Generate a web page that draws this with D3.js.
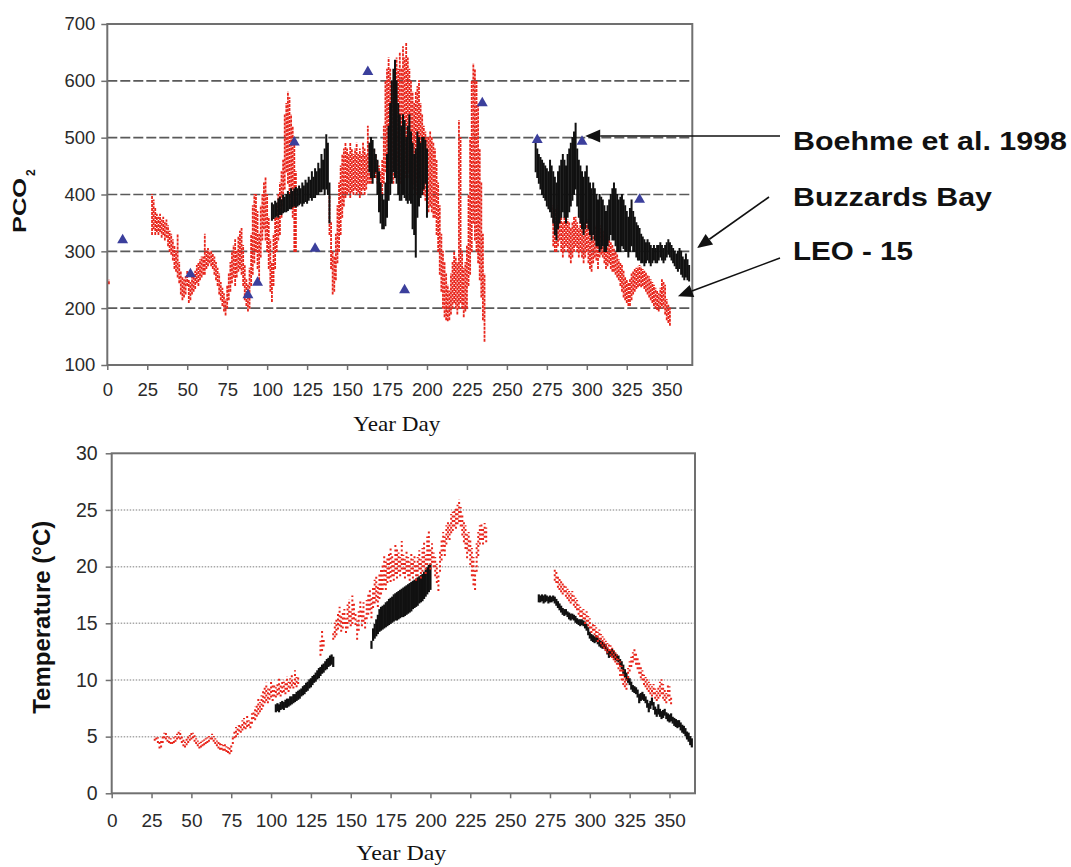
<!DOCTYPE html>
<html><head><meta charset="utf-8">
<script src="https://cdn.jsdelivr.net/npm/d3@7"></script>
<style>body{margin:0;background:#fff}</style>
</head><body>
<script>
// ---------- data ----------
const dayTicks = [0,25,50,75,100,125,150,175,200,225,250,275,300,325,350];
const pco2Ticks = [100,200,300,400,500,600,700];
const pco2Grid = [200,300,400,500,600];
const tempTicks = [0,5,10,15,20,25,30];
const tempGrid = [5,10,15,20,25];

// LEO-15 pCO2 : [day, low, high]
const leoPco2 = [[1,243,249],[28,330,400],[29,340,390],[30,330,375],[31,335,365],[32,330,360],[33,335,365],[34,325,355],[35,330,360],[36,320,350],[37,325,355],[38,310,345],[39,300,335],[40,295,330],[41,285,320],[42,270,310],[43,265,300],[44,255,330],[45,245,280],[46,225,265],[47,215,255],[48,220,250],[49,225,255],[50,240,265],[51,210,250],[52,215,245],[53,225,255],[54,230,260],[55,235,265],[56,245,275],[57,240,280],[58,250,285],[59,255,290],[60,260,290],[61,260,330],[62,270,300],[63,275,305],[64,280,300],[65,275,300],[66,270,295],[67,260,290],[68,250,280],[69,240,270],[70,225,260],[71,215,245],[72,205,235],[73,195,225],[74,188,215],[75,200,240],[76,215,260],[77,230,280],[78,245,300],[79,255,310],[80,240,320],[81,255,300],[82,265,325],[83,270,335],[84,260,340],[85,240,310],[86,215,275],[87,205,250],[88,195,240],[89,200,270],[90,240,330],[91,260,380],[92,280,400],[93,300,400],[94,270,370],[95,250,330],[96,290,380],[97,320,400],[98,340,420],[99,320,430],[100,300,400],[101,270,360],[102,230,320],[103,212,280],[104,240,330],[105,270,360],[106,300,380],[107,320,400],[108,330,420],[109,360,440],[110,380,460],[111,410,540],[112,440,560],[113,420,580],[114,400,570],[115,380,540],[116,360,520],[117,300,490],[118,300,440],
[139,330,400],[140,270,350],[141,225,300],[142,230,290],[143,250,330],[144,280,380],[145,300,420],[146,330,450],[147,360,470],[148,380,480],[149,395,490],[150,400,480],[151,405,470],[152,395,490],[153,405,480],[154,400,470],[155,410,480],[156,400,490],[157,405,470],[158,395,480],[159,400,470],[160,410,490],[161,400,480],[162,410,470],[163,420,520],[164,420,490],[165,420,480],[166,430,470],[167,440,480],[168,430,470],[169,420,460],[170,400,450],[171,390,440],[172,400,460],[173,420,520],[174,440,600],[175,450,620],[176,430,640],[177,420,620],[178,440,600],[179,420,580],[180,440,620],[181,450,640],[182,430,620],[183,420,650],[184,420,620],[185,440,660],[186,450,640],[187,430,666],[188,440,640],[189,430,620],[190,420,600],[191,420,580],[192,410,560],[193,400,580],[194,420,590],[195,430,600],[196,420,560],[197,410,540],[198,400,520],[199,390,510],[200,380,500],[201,370,500],[202,380,510],[203,370,500],[204,360,490],[205,360,480],[206,330,460],[207,300,420],[208,260,380],[209,230,330],[210,200,300],[211,185,280],[212,180,260],[213,178,240],[214,180,230],[215,190,260],[216,200,280],[217,210,300],[218,200,290],[219,190,280],[220,200,530],[221,210,500],[222,200,300],[223,185,270],[224,195,280],[225,200,310],[226,240,400],[227,260,500],[228,300,600],[229,350,630],[230,320,620],[231,300,600],[232,280,560],[233,250,480],[234,220,420],[235,180,330],[236,142,260],
[279,310,380],[280,300,375],[281,300,370],[282,310,380],[283,320,370],[284,300,360],[285,290,350],[286,300,360],[287,310,370],[288,300,355],[289,290,350],[290,280,340],[291,290,350],[292,300,360],[293,310,360],[294,300,350],[295,290,340],[296,300,360],[297,290,370],[298,280,340],[299,290,350],[300,300,355],[301,280,345],[302,270,330],[303,265,320],[304,280,335],[305,290,345],[306,285,330],[307,270,320],[308,290,340],[309,295,345],[310,290,335],[311,280,330],[312,270,330],[313,275,325],[314,280,320],[315,270,315],[316,265,310],[317,265,305],[318,260,300],[319,255,295],[320,250,285],[321,240,280],[322,230,275],[323,220,265],[324,215,255],[325,210,250],[326,205,245],[327,205,250],[328,215,260],[329,225,265],[330,230,268],[331,235,270],[332,238,272],[333,240,275],[334,238,272],[335,240,268],[336,235,265],[337,230,262],[338,225,258],[339,220,255],[340,215,250],[341,210,245],[342,205,240],[343,200,235],[344,198,230],[345,195,225],[346,200,235],[347,205,250],[348,200,245],[349,190,240],[350,180,215],[351,175,205],[352,170,200]];

// Buzzards Bay pCO2 : [day, low, high]
const bbPco2 = [[103,355,385],[104,358,382],[105,360,388],[106,362,385],[107,360,392],[108,365,395],[109,365,390],[110,368,398],[111,370,395],[112,370,400],[113,372,405],[114,375,400],[115,375,410],[116,378,405],[117,380,410],[118,378,412],[119,380,410],[120,382,415],[121,385,410],[122,380,420],[123,385,415],[124,388,425],[125,385,420],[126,390,430],[127,395,425],[128,390,440],[129,395,430],[130,395,445],[131,400,440],[132,400,455],[133,405,445],[134,405,470],[135,410,460],[136,400,480],[137,410,505],[138,400,490],[139,350,420],
[164,440,490],[165,430,500],[166,420,495],[167,430,480],[168,440,470],[169,400,460],[170,370,440],[171,350,420],[172,340,400],[173,340,390],[174,345,420],[175,360,470],[176,390,520],[177,400,560],[178,420,600],[179,440,620],[180,430,636],[181,420,600],[182,400,560],[183,390,540],[184,390,520],[185,400,540],[186,395,530],[187,390,500],[188,385,520],[189,390,540],[190,385,510],[191,340,490],[192,330,470],[193,290,480],[194,360,510],[195,380,500],[196,395,490],[197,400,500],[198,410,500],[199,420,495],[200,360,480],
[268,440,495],[269,430,480],[270,420,470],[271,410,465],[272,400,460],[273,395,455],[274,390,450],[275,380,445],[276,375,440],[277,370,460],[278,360,450],[279,350,440],[280,330,430],[281,320,420],[282,340,440],[283,350,450],[284,360,460],[285,370,470],[286,360,460],[287,350,450],[288,360,470],[289,370,480],[290,380,490],[291,390,500],[292,400,510],[293,410,525],[294,380,480],[295,360,460],[296,350,450],[297,340,440],[298,330,430],[299,340,440],[300,350,450],[301,340,430],[302,330,420],[303,320,410],[304,330,420],[305,320,410],[306,310,400],[307,310,390],[308,300,400],[309,305,395],[310,310,390],[311,300,380],[312,300,370],[313,310,380],[314,320,390],[315,330,400],[316,320,410],[317,320,420],[318,310,410],[319,300,400],[320,300,390],[321,300,395],[322,310,400],[323,305,390],[324,300,380],[325,300,370],[326,290,360],[327,300,375],[328,310,390],[329,300,370],[330,300,360],[331,290,350],[332,285,345],[333,285,340],[334,280,330],[335,280,325],[336,275,320],[337,280,315],[338,285,320],[339,280,315],[340,275,310],[341,280,305],[342,285,310],[343,280,305],[344,280,310],[345,285,310],[346,290,315],[347,285,310],[348,280,305],[349,285,310],[350,290,315],[351,295,320],[352,290,315],[353,285,310],[354,280,305],[355,275,300],[356,270,295],[357,265,300],[358,270,305],[359,260,300],[360,255,290],[361,250,285],[362,255,295],[363,250,285],[364,248,275]];

// Boehme et al. 1998 : [day, pCO2]
const boehme = [[9.6,320],[52,260],[88,223],[94,245],[117,492],[130,305],[163,616],[186,232],[234.6,561],[269,496],[297,493],[333,391]];

// LEO-15 temperature : [day, low, high]
const leoTemp = [[27,4.7,5.0],[28,4.8,5.0],[29,4.5,4.9],[30,4.0,4.5],[31,4.1,4.6],[32,4.5,5.0],[33,4.9,5.3],[34,4.8,5.3],[35,4.6,5.0],[36,4.5,4.9],[37,4.4,4.8],[38,4.4,4.7],[39,4.5,4.9],[40,4.6,5.0],[41,4.8,5.2],[42,4.9,5.4],[43,4.8,5.5],[44,4.5,5.0],[45,4.2,4.7],[46,4.1,4.5],[47,4.3,4.8],[48,4.5,5.0],[49,4.7,5.1],[50,4.8,5.3],[51,4.9,5.3],[52,4.6,5.1],[53,4.4,4.8],[54,4.2,4.6],[55,4.0,4.4],[56,4.1,4.5],[57,4.2,4.6],[58,4.3,4.7],[59,4.4,4.8],[60,4.5,4.9],[61,4.6,5.0],[62,4.8,5.1],[63,4.8,5.2],[64,4.6,5.0],[65,4.4,4.8],[66,4.2,4.6],[67,4.0,4.5],[68,3.9,4.4],[69,3.9,4.3],[70,3.8,4.2],[71,3.8,4.3],[72,3.7,4.1],[73,3.6,4.0],[74,3.5,4.0],[75,3.7,4.3],
[76,4.4,5.0],[77,4.9,5.5],[78,5.0,5.8],[79,5.2,5.9],[80,5.5,6.2],[81,5.4,6.0],[82,5.6,6.4],[83,5.8,6.6],[84,5.7,6.2],[85,5.9,6.8],[86,6.0,6.4],[87,5.8,6.3],[88,6.2,7.0],[89,6.6,7.3],[90,6.5,7.6],[91,6.8,7.8],[92,7.0,8.3],[93,7.2,8.0],[94,7.4,8.6],[95,7.7,9.0],[96,8.0,9.3],[97,8.2,9.7],[98,8.0,9.2],[99,8.3,9.4],[100,8.5,9.8],[101,8.2,9.5],[102,8.6,9.6],[103,8.5,9.3],[104,8.7,9.8],[105,8.8,10.2],[106,8.6,9.6],[107,8.9,10.0],[108,9.0,9.8],[109,8.8,9.9],[110,9.2,10.3],[111,9.0,9.8],[112,9.3,10.1],[113,9.5,10.4],[114,9.3,10.0],[115,9.6,10.8],[116,9.4,10.2],[117,9.7,10.3],
[131,12.2,13.4],[132,12.6,14.3],[133,13.0,13.6],[139,13.6,14.2],[140,13.8,15.0],[141,14.0,15.4],[142,14.5,15.8],[143,14.8,16.4],[144,14.3,15.6],[145,14.6,16.0],[146,15.0,16.2],[147,14.2,15.4],[148,14.6,16.6],[149,15.2,17.1],[150,14.8,16.0],[151,15.0,17.4],[152,15.4,16.8],[153,14.9,15.8],[154,13.6,15.2],[155,14.4,16.0],[156,15.6,17.0],[157,14.8,16.2],[158,15.2,16.8],[159,14.6,15.6],[160,15.4,17.0],[161,15.8,17.6],[162,16.2,18.0],[163,15.5,17.2],[164,16.4,18.2],[165,16.8,18.8],[166,17.0,19.1],[167,16.5,18.4],[168,17.2,19.4],[169,17.6,19.8],[170,18.0,20.2],[171,18.4,21.0],[172,18.0,20.4],[173,18.6,20.8],[174,19.0,21.2],[175,18.7,21.6],[176,19.2,21.0],[177,18.8,20.6],[178,19.4,22.0],[179,19.0,21.5],[180,19.6,21.2],[181,19.2,20.8],[182,19.8,22.2],[183,19.4,21.0],[184,19.0,20.6],[185,19.6,21.4],[186,19.2,20.8],[187,18.8,20.4],[188,19.4,21.2],[189,19.0,20.6],[190,19.6,21.0],[191,18.8,20.2],[192,19.2,20.8],[193,19.8,21.4],[194,19.0,20.6],[195,19.6,21.6],[196,20.0,22.2],[197,19.4,21.0],[198,20.2,22.6],[199,20.6,23.2],[200,19.8,21.6],[201,20.4,22.0],[202,20.0,21.2],[203,19.2,20.8],[204,18.6,20.2],[205,17.9,19.4],[206,19.6,21.4],[207,20.6,22.4],[208,21.4,23.0],[209,21.0,22.6],[210,22.0,23.6],[211,22.6,24.0],[212,22.4,23.8],[213,23.0,24.6],[214,23.2,24.8],[215,23.6,25.0],[216,23.4,25.2],[217,23.8,25.4],[218,24.0,25.9],[219,23.6,25.2],[220,22.8,24.6],[221,22.2,24.0],[222,21.6,23.6],[223,20.8,22.8],[224,21.4,23.0],[225,20.2,22.4],[226,19.2,21.6],[227,18.4,20.8],[228,18.0,19.6],[229,19.6,22.0],[230,21.0,23.0],[231,22.0,23.6],[232,22.4,23.8],[233,22.0,23.4],[234,22.6,23.8],[235,22.2,23.4],
[278,18.8,19.8],[279,18.6,19.6],[280,18.2,19.2],[281,18.0,19.0],[282,17.8,18.8],[283,17.6,18.6],[284,17.8,18.4],[285,17.4,18.2],[286,17.2,18.0],[287,17.0,17.8],[288,16.8,17.6],[289,17.0,17.8],[290,16.6,17.4],[291,16.4,17.2],[292,16.2,17.0],[293,15.8,16.6],[294,15.6,16.4],[295,15.6,16.2],[296,15.4,16.2],[297,15.0,15.8],[298,15.2,16.0],[299,14.8,15.6],[300,14.6,15.4],[301,14.2,14.8],[302,14.4,15.0],[303,14.0,14.8],[304,13.8,14.6],[305,13.4,14.2],[306,13.6,14.4],[307,13.2,14.0],[308,13.0,13.8],[309,12.8,13.6],[310,12.6,13.4],[311,12.4,13.2],[312,12.6,13.2],[313,12.2,13.0],[314,12.0,12.8],[315,11.8,12.6],[316,11.6,12.4],[317,11.4,12.2],[318,11.0,11.8],[319,10.4,11.6],[320,10.0,11.2],[321,9.6,10.8],[322,9.4,10.2],[323,9.2,10.0],[324,10.2,11.0],[325,10.8,11.6],[326,11.2,12.0],[327,11.6,12.4],[328,11.8,12.8],[329,11.4,12.4],[330,11.0,12.0],[331,10.6,11.6],[332,10.2,11.2],[333,10.0,10.8],[334,9.6,10.4],[335,9.4,10.2],[336,9.2,10.0],[337,9.0,9.8],[338,8.8,9.6],[339,8.6,9.4],[340,8.8,9.6],[341,8.4,9.2],[342,8.2,9.0],[343,8.4,9.4],[344,8.6,9.8],[345,8.8,10.0],[346,8.4,9.6],[347,8.2,9.2],[348,8.0,8.8],[349,8.6,9.6],[350,8.2,9.4],[351,7.9,8.6]];

// Buzzards Bay temperature : [day, low, high]
const bbTemp = [[103,7.2,7.8],[104,7.3,7.9],[105,7.2,7.8],[106,7.4,8.0],[107,7.5,8.1],[108,7.4,8.0],[109,7.6,8.2],[110,7.6,8.3],[111,7.7,8.3],[112,7.8,8.5],[113,7.9,8.5],[114,8.0,8.7],[115,8.1,8.7],[116,8.2,8.9],[117,8.3,9.0],[118,8.4,9.1],[119,8.6,9.2],[120,8.7,9.4],[121,8.8,9.5],[122,9.0,9.7],[123,9.1,9.8],[124,9.3,10.0],[125,9.4,10.1],[126,9.6,10.3],[127,9.8,10.4],[128,9.9,10.6],[129,10.1,10.8],[130,10.2,11.0],[131,10.4,11.1],[132,10.6,11.3],[133,10.7,11.4],[134,10.9,11.6],[135,11.0,11.8],[136,11.2,11.9],[137,11.3,12.1],[138,11.4,12.2],[139,11.2,12.0],
[163,12.8,13.4],[164,13.5,14.5],[165,13.7,14.9],[166,13.9,15.3],[167,14.1,15.7],[168,14.3,16.2],[169,14.4,16.4],[170,14.5,16.5],[171,14.6,16.6],[172,14.7,16.8],[173,14.8,16.9],[174,14.9,17.1],[175,15.0,17.2],[176,15.1,17.3],[177,15.2,17.5],[178,15.3,17.6],[179,15.3,17.7],[180,15.4,17.8],[181,15.5,17.9],[182,15.6,18.0],[183,15.6,18.1],[184,15.7,18.2],[185,15.8,18.3],[186,15.9,18.4],[187,16.0,18.5],[188,16.1,18.6],[189,16.3,18.7],[190,16.4,18.8],[191,16.5,18.9],[192,16.6,19.0],[193,16.8,19.1],[194,16.9,19.2],[195,17.0,19.3],[196,17.2,19.5],[197,17.4,19.7],[198,17.6,19.9],[199,17.8,20.1],[200,18.0,20.2],
[268,16.9,17.5],[269,16.9,17.4],[270,17.0,17.5],[271,16.8,17.4],[272,16.9,17.5],[273,17.0,17.4],[274,16.8,17.3],[275,16.9,17.4],[276,16.9,17.3],[277,17.0,17.4],[278,16.8,17.3],[279,16.6,17.1],[280,16.4,16.9],[281,16.2,16.7],[282,16.0,16.5],[283,15.8,16.3],[284,15.7,16.2],[285,15.8,16.2],[286,15.6,16.0],[287,15.4,15.9],[288,15.3,15.8],[289,15.4,15.8],[290,15.3,15.7],[291,15.1,15.6],[292,15.0,15.4],[293,14.9,15.3],[294,14.8,15.3],[295,14.9,15.3],[296,14.8,15.2],[297,14.6,15.1],[298,14.4,14.9],[299,14.0,14.6],[300,13.7,14.2],[301,13.5,14.0],[302,13.4,13.9],[303,13.3,13.8],[304,13.4,13.9],[305,13.2,13.7],[306,13.0,13.5],[307,12.9,13.4],[308,12.8,13.3],[309,12.8,13.2],[310,12.6,13.1],[311,12.3,12.8],[312,12.0,12.5],[313,12.1,12.6],[314,12.2,12.7],[315,12.0,12.5],[316,11.8,12.3],[317,11.7,12.2],[318,11.6,12.1],[319,11.3,11.8],[320,11.0,11.6],[321,10.6,11.3],[322,10.3,10.9],[323,10.0,10.6],[324,9.8,10.3],[325,9.6,10.1],[326,9.2,9.8],[327,9.0,9.5],[328,8.9,9.4],[329,8.8,9.3],[330,8.5,9.1],[331,8.0,8.7],[332,8.2,8.8],[333,8.3,8.9],[334,8.2,8.7],[335,8.0,8.5],[336,7.6,8.2],[337,7.2,7.9],[338,7.5,8.1],[339,7.8,8.4],[340,7.4,8.0],[341,7.0,7.6],[342,6.8,7.4],[343,7.0,7.8],[344,6.8,7.4],[345,6.6,7.2],[346,6.7,7.3],[347,6.9,7.4],[348,6.6,7.1],[349,6.4,7.0],[350,6.3,6.9],[351,6.4,7.0],[352,6.2,6.7],[353,6.0,6.6],[354,5.9,6.5],[355,5.8,6.4],[356,5.9,6.4],[357,5.6,6.2],[358,5.4,6.0],[359,5.3,5.9],[360,5.1,5.7],[361,4.8,5.4],[362,4.6,5.3],[363,4.3,5.0],[364,4.1,4.8]];

// annotation labels: [text, arrow tip day, arrow tip pCO2]
const labels = ["Boehme et al. 1998","Buzzards Bay","LEO - 15"];
const labelTips = [[299,503],[369,306],[357,221]];

// ---------- drawing ----------
const W = 1071, H = 867;
const SANS = "'Liberation Sans', Arial, Helvetica, sans-serif";
const SERIF = "'Liberation Serif', 'Times New Roman', serif";
const RED = "#e8261c", BLK = "#111", BLUE = "#3b3f9c", FRAME = "#707070";

const svg = d3.select("body").append("svg").attr("width", W).attr("height", H)
  .style("background", "#fff");

const P1 = {l:107.3, r:692.3, t:24, b:365};
const P2 = {l:111.7, r:695, t:453.3, b:793.3};

const x1 = d3.scaleLinear().domain([0,366]).range([P1.l,P1.r]);
const y1 = d3.scaleLinear().domain([100,700]).range([P1.b,P1.t]);
const x2 = d3.scaleLinear().domain([0,366]).range([P2.l,P2.r]);
const y2 = d3.scaleLinear().domain([0,30]).range([P2.b,P2.t]);

const defs = svg.append("defs");
[["clip1",P1],["clip2",P2]].forEach(([id,P]) => {
  defs.append("clipPath").attr("id",id).append("rect")
    .attr("x",P.l).attr("y",P.t).attr("width",P.r-P.l).attr("height",P.b-P.t);
});

function columns(g, data, x, y, color, w, dash){
  g.selectAll(null).data(data).join("line")
    .attr("x1", d => x(d[0])).attr("x2", d => x(d[0]))
    .attr("y1", d => y(d[1]) + 0.6).attr("y2", d => y(d[2]) - 0.6)
    .attr("stroke", color).attr("stroke-width", w)
    .attr("stroke-dasharray", dash);
}

function styleAxis(g, size){
  g.select(".domain").remove();
  g.selectAll("line").attr("stroke", FRAME).attr("stroke-width", 1.5);
  g.selectAll("text").attr("font-family", SANS).attr("font-size", size).attr("fill", "#2a2a2a");
}

// ===== top panel =====
const gTop = svg.append("g");
gTop.selectAll(null).data(pco2Grid).join("line")
  .attr("x1", P1.l).attr("x2", P1.r).attr("y1", d => y1(d)).attr("y2", d => y1(d))
  .attr("stroke", "#5a5a5a").attr("stroke-width", 1.6).attr("stroke-dasharray", "10,3");

const data1 = gTop.append("g").attr("clip-path", "url(#clip1)");
columns(data1.append("g"), leoPco2, x1, y1, RED, 1.8, "3,1");
columns(data1.append("g"), bbPco2, x1, y1, BLK, 2, null);

data1.append("g").selectAll(null).data(boehme).join("path")
  .attr("d", d3.symbol(d3.symbolTriangle, 52))
  .attr("transform", d => `translate(${x1(d[0])},${y1(d[1])})`)
  .attr("fill", BLUE);

gTop.append("rect").attr("x", P1.l).attr("y", P1.t).attr("width", P1.r-P1.l).attr("height", P1.b-P1.t)
  .attr("fill", "none").attr("stroke", FRAME).attr("stroke-width", 2);

styleAxis(gTop.append("g").attr("transform", `translate(0,${P1.b})`)
  .call(d3.axisBottom(x1).tickValues(dayTicks).tickSize(5).tickPadding(13).tickSizeOuter(0)), 18.5);
styleAxis(gTop.append("g").attr("transform", `translate(${P1.l},0)`)
  .call(d3.axisLeft(y1).tickValues(pco2Ticks).tickSize(6).tickPadding(6).tickSizeOuter(0)), 18.5);

gTop.append("text").attr("x", (P1.l+P1.r)/2 - 3).attr("y", 431)
  .attr("text-anchor", "middle").attr("font-family", SERIF).attr("font-size", 21)
  .attr("textLength", 87).attr("lengthAdjust", "spacingAndGlyphs").attr("fill", "#111")
  .text("Year Day");

// PCO2 title (rotated), subscript as its own text
gTop.append("text").attr("transform", "translate(26,233) rotate(-90)")
  .attr("font-family", SANS).attr("font-weight", "bold").attr("font-size", 18).attr("fill", "#111")
  .attr("textLength", 55).attr("lengthAdjust", "spacingAndGlyphs").text("PCO");
gTop.append("text").attr("transform", "translate(35,176) rotate(-90)")
  .attr("font-family", SANS).attr("font-weight", "bold").attr("font-size", 12).attr("fill", "#111")
  .text("2");

// ===== bottom panel =====
const gBot = svg.append("g");
gBot.selectAll(null).data(tempGrid).join("line")
  .attr("x1", P2.l).attr("x2", P2.r).attr("y1", d => y2(d)).attr("y2", d => y2(d))
  .attr("stroke", "#a8a8a8").attr("stroke-width", 1.5).attr("stroke-dasharray", "1.5,1.5");

const data2 = gBot.append("g").attr("clip-path", "url(#clip2)");
columns(data2.append("g"), bbTemp, x2, y2, BLK, 2.2, null);
columns(data2.append("g"), leoTemp, x2, y2, RED, 2, "2,2.5");

gBot.append("rect").attr("x", P2.l).attr("y", P2.t).attr("width", P2.r-P2.l).attr("height", P2.b-P2.t)
  .attr("fill", "none").attr("stroke", FRAME).attr("stroke-width", 2);

styleAxis(gBot.append("g").attr("transform", `translate(0,${P2.b})`)
  .call(d3.axisBottom(x2).tickValues(dayTicks).tickSize(5).tickPadding(15).tickSizeOuter(0)), 19);
styleAxis(gBot.append("g").attr("transform", `translate(${P2.l},0)`)
  .call(d3.axisLeft(y2).tickValues(tempTicks).tickSize(6).tickPadding(8).tickSizeOuter(0)), 19.5);

gBot.append("text").attr("x", (P2.l+P2.r)/2 - 2).attr("y", 860)
  .attr("text-anchor", "middle").attr("font-family", SERIF).attr("font-size", 21)
  .attr("textLength", 90).attr("lengthAdjust", "spacingAndGlyphs").attr("fill", "#111")
  .text("Year Day");

gBot.append("text").attr("transform", `translate(50,${(P2.t+P2.b)/2 - 6}) rotate(-90)`)
  .attr("text-anchor", "middle").attr("font-family", SANS).attr("font-weight", "bold")
  .attr("font-size", 23).attr("textLength", 193).attr("lengthAdjust", "spacingAndGlyphs")
  .attr("fill", "#111").text("Temperature (°C)");

// ===== annotations =====
const ann = svg.append("g");
const labelPos = [[793,150,274],[793,206,199],[793,260,120]];
const tails = [[780,136],[769,197],[780,258]];
labels.forEach((t,i) => {
  ann.append("text").attr("x", labelPos[i][0]).attr("y", labelPos[i][1])
    .attr("font-family", SANS).attr("font-weight", "bold").attr("font-size", 26)
    .attr("textLength", labelPos[i][2]).attr("lengthAdjust", "spacingAndGlyphs")
    .attr("fill", "#111").text(t);
  const [tx, ty] = tails[i];
  const hx = x1(labelTips[i][0]), hy = y1(labelTips[i][1]);
  const dx = hx - tx, dy = hy - ty, L = Math.hypot(dx, dy), ux = dx/L, uy = dy/L;
  const hl = 15, hw = 6.5;
  const bx = hx - ux*hl, by = hy - uy*hl;
  ann.append("line").attr("x1", tx).attr("y1", ty).attr("x2", bx).attr("y2", by)
    .attr("stroke", "#111").attr("stroke-width", 1.6);
  ann.append("path")
    .attr("d", `M${hx},${hy}L${bx - uy*hw},${by + ux*hw}L${bx + uy*hw},${by - ux*hw}Z`)
    .attr("fill", "#111");
});
</script>
</body></html>
